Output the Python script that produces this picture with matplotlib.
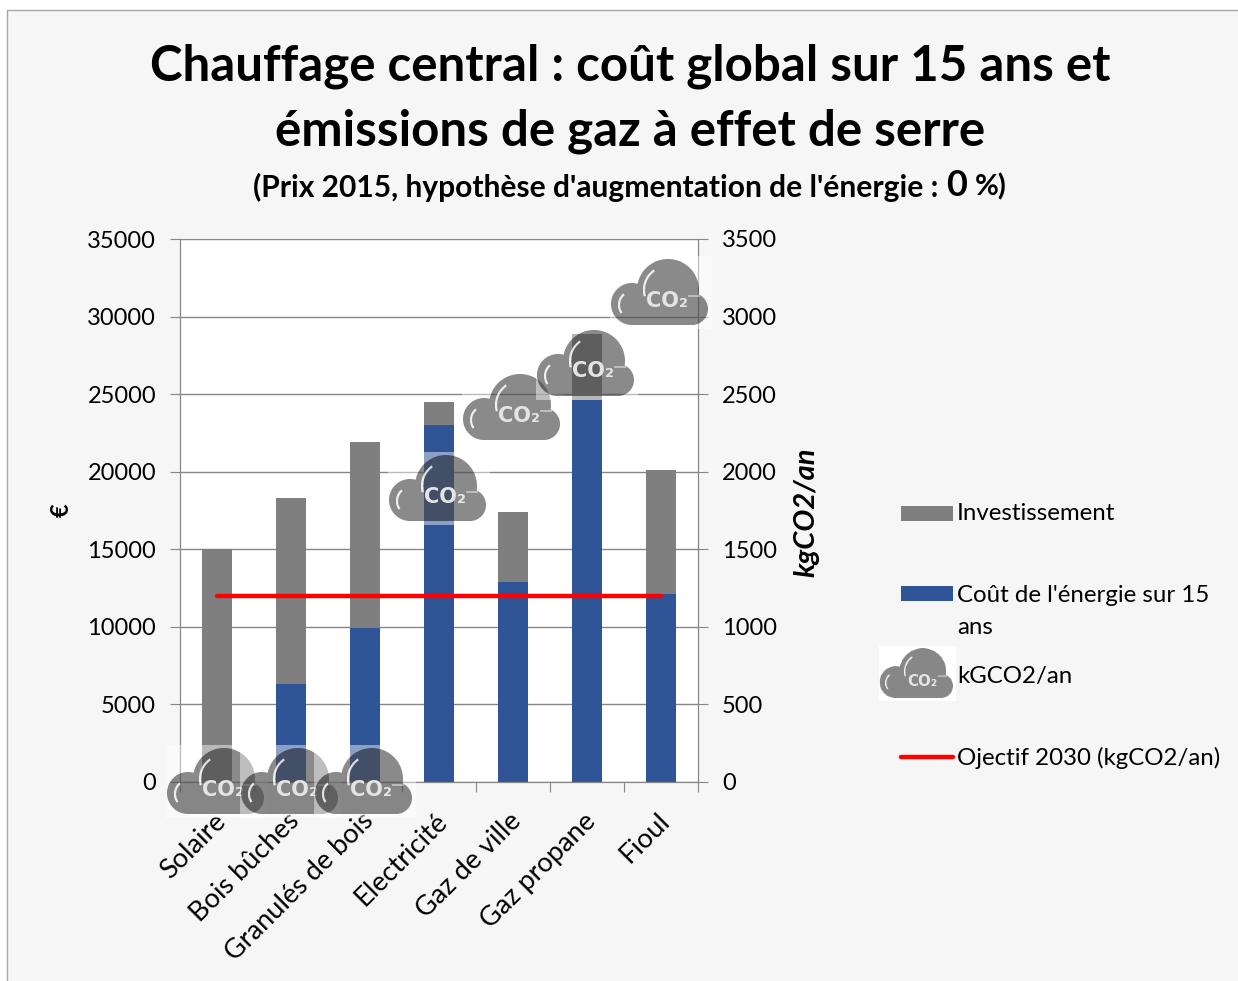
import numpy as np
import matplotlib
matplotlib.use("Agg")
import matplotlib.pyplot as plt
from matplotlib import font_manager
from matplotlib.patches import Rectangle
from matplotlib.lines import Line2D
from matplotlib.offsetbox import OffsetImage, AnnotationBbox

plt.rcParams['font.family'] = ['Lato', 'DejaVu Sans']

categories = ["Solaire", "Bois bûches", "Granulés de bois", "Electricité", "Gaz de ville", "Gaz propane", "Fioul"]
energie = [0, 6300, 9900, 23000, 12900, 24600, 12100]
investissement = [15000, 12000, 12000, 1500, 4500, 4300, 8000]
co2 = [0, 0, 0, 1893, 2413, 2700, 3157]
objectif = [1200, 1200, 1200, 1200, 1200, 1200, 1200]
ticks_euro = [0, 5000, 10000, 15000, 20000, 25000, 30000, 35000]
ticks_co2 = [0, 500, 1000, 1500, 2000, 2500, 3000, 3500]

W, H = 1238, 981
GRIS = "#7f7f7f"
BLEU = "#2f5597"
LIGNE = "#868686"

# police étroite pour le CO2 des nuages, si elle existe
installed = {f.name for f in font_manager.fontManager.ttflist}
if "Liberation Sans Narrow" in installed:
    co2_family, co2_size = ["Liberation Sans Narrow", "DejaVu Sans"], 18
else:
    co2_family, co2_size = ["DejaVu Sans"], 15


def fx(x):
    return x / W


def fy(y):
    return 1 - y / H


def make_cloud(box_alpha):
    # nuage dessiné en pixels, suréchantillonné puis réduit
    s = 4
    w, h = 102, 73
    yy, xx = np.mgrid[0:h * s, 0:w * s]
    xx = (xx + 0.5) / s
    yy = (yy + 0.5) / s

    def disc(cx, cy, r):
        return (xx - cx) ** 2 + (yy - cy) ** 2 <= r ** 2

    def arc(cx, cy, r, a0, a1, t=1.0):
        d = np.hypot(xx - cx, yy - cy)
        a = np.degrees(np.arctan2(cy - yy, xx - cx)) % 360
        return (np.abs(d - r) < t) & (a >= a0) & (a <= a1)

    mask = disc(58, 34, 31) | disc(22, 48, 21) | disc(82, 53, 16)
    mask |= (xx > 23) & (xx < 82) & (yy > 36) & (yy < 69)
    light = arc(58, 34, 24, 125, 195, 1.1) | arc(23, 49, 14, 130, 215, 1.1)
    light |= (xx > 78) & (xx < 90) & (np.abs(yy - 40) < 0.6)

    img = np.zeros((h * s, w * s, 4))
    img[..., :3] = 1.0
    img[..., 3] = box_alpha
    img[mask, :3] = 78 / 255
    img[mask, 3] = 0.66
    img[mask & light, :3] = 0.93
    img[mask & light, 3] = 0.9
    # moyenne par blocs en alpha prémultiplié
    prem = img.copy()
    prem[..., :3] *= prem[..., 3:4]
    prem = prem.reshape(h, s, w, s, 4).mean(axis=(1, 3))
    out = prem.copy()
    out[..., :3] = prem[..., :3] / np.maximum(prem[..., 3:4], 1e-6)
    return out


fig = plt.figure(figsize=(W / 100, H / 100), dpi=100, facecolor="white")
fig.add_artist(Rectangle((fx(7), fy(1000)), W, 990 / H, transform=fig.transFigure,
                         facecolor="#f6f6f6", edgecolor="#a6a6a6", lw=1, zorder=-5))

ax = fig.add_axes([fx(180), fy(782), 518 / W, 543 / H], facecolor="white")
x = np.arange(len(categories))
ax.bar(x, energie, width=0.4, color=BLEU, zorder=2)
ax.bar(x, investissement, width=0.4, bottom=energie, color=GRIS, zorder=2)
ax.set_xlim(-0.5, 6.5)
ax.set_ylim(0, 35000)
ax.set_yticks(ticks_euro)
ax.grid(axis="y", color=LIGNE, lw=1)
ax.set_axisbelow(True)
ax.tick_params(axis="y", length=7.2, width=0.8, color=LIGNE, labelsize=17, pad=10)
ax.set_xticks(np.append(x - 0.5, 6.5))
ax.set_xticklabels([""] * 8)
ax.tick_params(axis="x", length=7.2, width=0.8, color=LIGNE)
for s in ax.spines.values():
    s.set_color(LIGNE)
    s.set_linewidth(0.8)
ax.spines["top"].set_visible(False)
for i, c in enumerate(categories):
    ax.annotate(c, (i, 0), xytext=(-3, -19), textcoords="offset points", xycoords="data",
                rotation=45, rotation_mode="anchor", ha="right", va="top", fontsize=19.5)

ax2 = ax.twinx()
ax2.set_ylim(0, 3500)
ax2.set_yticks(ticks_co2)
ax2.tick_params(axis="y", length=7.2, width=0.8, color=LIGNE, labelsize=17, pad=10)
for s in ax2.spines.values():
    s.set_color(LIGNE)
    s.set_linewidth(0.8)
ax2.spines["top"].set_visible(False)
ax2.plot(x, objectif, color="#ff0000", lw=3.2, solid_capstyle="round", zorder=3)

cloud = make_cloud(0.45)
for i, v in enumerate(co2):
    box = AnnotationBbox(OffsetImage(cloud, zoom=0.72), (i, v), frameon=False, pad=0,
                         box_alignment=(0.5, 0.5), annotation_clip=False, zorder=10 + 2 * i)
    ax2.add_artist(box)
    ax2.annotate("CO₂", (i, v), xytext=(4, -6), textcoords="offset points", ha="center", va="center",
                 fontsize=co2_size, fontweight="bold", color="#e4e4e4",
                 family=co2_family, zorder=11 + 2 * i, annotation_clip=False)

fig.text(fx(630), fy(66), "Chauffage central : coût global sur 15 ans et", ha="center", va="center",
         fontsize=35.5, fontweight="bold")
fig.text(fx(630), fy(131), "émissions de gaz à effet de serre", ha="center", va="center",
         fontsize=35.5, fontweight="bold")
fig.text(fx(938), fy(187), "(Prix 2015, hypothèse d'augmentation de l'énergie :", ha="right", va="center",
         fontsize=21.6, fontweight="bold")
fig.text(fx(957), fy(185), "0", ha="center", va="center", fontsize=26, fontweight="bold")
fig.text(fx(975), fy(187), "%)", ha="left", va="center", fontsize=21, fontweight="bold")

fig.text(fx(61), fy(510), "€", rotation=90, ha="center", va="center", fontsize=17, fontweight="bold")
fig.text(fx(806), fy(512), "kgCO2/an", rotation=90, ha="center", va="center", fontsize=21,
         fontweight="bold", style="italic")

# légende à la main, comme sur le graphique d'origine
fig.add_artist(Rectangle((fx(901), fy(521)), 52 / W, 15 / H, transform=fig.transFigure, color=GRIS, lw=0))
fig.add_artist(Rectangle((fx(901), fy(601)), 52 / W, 15 / H, transform=fig.transFigure, color=BLEU, lw=0))
fig.add_artist(Line2D([fx(901), fx(953)], [fy(757), fy(757)], color="#ff0000", lw=3.2,
                      solid_capstyle="round"))
legend_box = AnnotationBbox(OffsetImage(make_cloud(1.0), zoom=0.54), (fx(917), fy(674)),
                            xycoords="figure fraction", frameon=False, pad=0, box_alignment=(0.5, 0.5))
fig.add_artist(legend_box)
fig.text(fx(922), fy(681), "CO₂", ha="center", va="center", fontsize=co2_size * 0.72, fontweight="bold",
         color="#e4e4e4", family=co2_family, zorder=20)
legend_labels = ["Investissement", "Coût de l'énergie sur 15", "ans", "kGCO2/an", "Ojectif 2030 (kgCO2/an)"]
legend_y = [514, 595, 628, 677, 758]
for lab, y in zip(legend_labels, legend_y):
    fig.text(fx(957), fy(y), lab, ha="left", va="center", fontsize=17.3)

fig.savefig("out.png", dpi=100)
